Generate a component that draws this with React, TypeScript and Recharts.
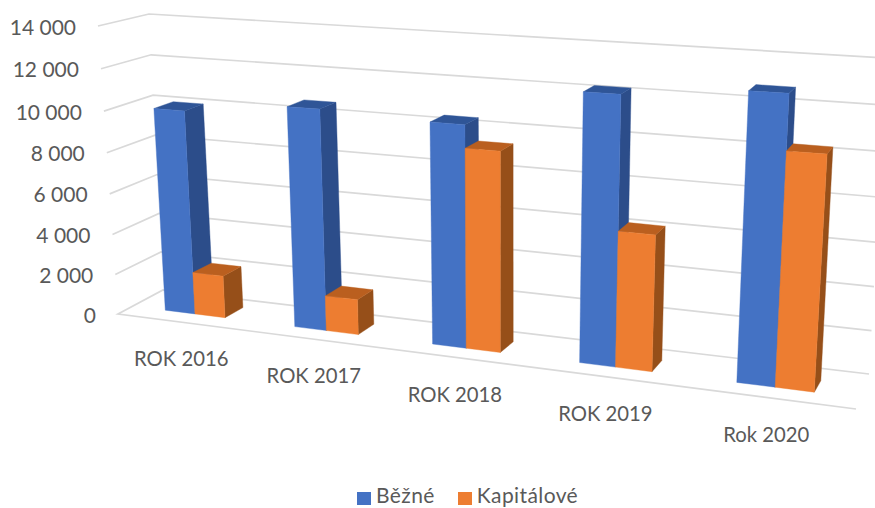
import React from 'react';
import { BarChart, Bar, XAxis, YAxis, CartesianGrid, Legend } from 'recharts';

const categories = ['ROK 2016', 'ROK 2017', 'ROK 2018', 'ROK 2019', 'Rok 2020'];
const bezne = [10000, 10570, 10360, 12170, 12670];
const kapitalove = [2090, 1705, 9300, 6195, 10280];
const yTicks = [0, 2000, 4000, 6000, 8000, 10000, 12000, 14000];
const data = categories.map((name, i) => ({ name, bezne: bezne[i], kapitalove: kapitalove[i] }));

const W = 875;
const H = 508;
const PLOT_X = 1;
const Y_MAX = 14000;
const FONT = 'Lato, "Open Sans", sans-serif';
const TEXT = '#595959';
const GRID = '#D9D9D9';

type Pt = [number, number];
// Projective map of the unit square (u across, v up) on a quadrilateral: bl, br, tr, tl
function quad(a: Pt, b: Pt, c: Pt, d: Pt) {
  const dx1 = b[0] - c[0], dx2 = d[0] - c[0], sx = a[0] - b[0] + c[0] - d[0];
  const dy1 = b[1] - c[1], dy2 = d[1] - c[1], sy = a[1] - b[1] + c[1] - d[1];
  const den = dx1 * dy2 - dx2 * dy1;
  const g = (sx * dy2 - dx2 * sy) / den;
  const h = (dx1 * sy - sx * dy1) / den;
  return (u: number, v: number): Pt => {
    const w = g * u + h * v + 1;
    return [
      ((b[0] - a[0] + g * b[0]) * u + (d[0] - a[0] + h * d[0]) * v + a[0]) / w,
      ((b[1] - a[1] + g * b[1]) * u + (d[1] - a[1] + h * d[1]) * v + a[1]) / w,
    ];
  };
}

const frontPlane = quad([132, 306], [859, 397.8], [879.4, 65.8], [114.4, 22]);
const backPlane = quad([151.5, 296], [864.5, 386.3], [883.9, 60.3], [134.4, 16.5]);
const wall = quad([163, 290], [869, 374], [887, 58], [149, 14]);
const sideWall = quad([118, 314], [163, 290], [146, 14], [98, 26]);

const poly = (pts: Pt[]) => pts.map((p) => `${p[0].toFixed(1)},${p[1].toFixed(1)}`).join(' ');
const toU = (x: number) => (x - PLOT_X) / (W - PLOT_X);

const makeBox = (front: string, top: string, side: string) => (props: any) => {
  const { x, y, width, height, background } = props;
  const plotTop = background.y;
  const plotH = background.height;
  const u0 = toU(x);
  const u1 = toU(x + width);
  const vTop = 1 - (y - plotTop) / plotH;
  const vBase = 1 - (y + height - plotTop) / plotH;
  const fbl = frontPlane(u0, vBase), fbr = frontPlane(u1, vBase);
  const ftl = frontPlane(u0, vTop), ftr = frontPlane(u1, vTop);
  const bbr = backPlane(u1, vBase);
  const btl = backPlane(u0, vTop), btr = backPlane(u1, vTop);
  return (
    <g>
      <polygon points={poly([ftr, btr, bbr, fbr])} fill={side} stroke={side} strokeWidth={0.4} />
      <polygon points={poly([ftl, btl, btr, ftr])} fill={top} stroke={top} strokeWidth={0.4} />
      <polygon points={poly([fbl, fbr, ftr, ftl])} fill={front} stroke={front} strokeWidth={0.4} />
    </g>
  );
};

const BlueBox = makeBox('#4472C4', '#2F5597', '#2C4D8A');
const OrangeBox = makeBox('#ED7D31', '#BA5F1F', '#964F19');

const GridLine = (props: any) => {
  const { y1, y, height, index } = props;
  const v = 1 - (y1 - y) / height;
  const f = sideWall(0, v);
  const bl = wall(0, v);
  const br = wall(1, v);
  const pts = Math.abs(v) < 1e-6 ? [[856, 409] as Pt, f, bl, br] : [f, bl, br];
  return <polyline key={index} points={poly(pts)} fill="none" stroke={GRID} strokeWidth={1.7} />;
};

const YTick = (props: any) => {
  const { payload } = props;
  const v = payload.value / Y_MAX;
  const f = sideWall(0, v);
  const label = String(payload.value).replace(/\B(?=(\d{3})+$)/g, ' ');
  return (
    <text x={f[0] - 22} y={f[1]} textAnchor="end" dominantBaseline="central" fontFamily={FONT} fontSize={21} fill={TEXT}>
      {label}
    </text>
  );
};

const XTick = (props: any) => {
  const { x, payload } = props;
  const u = toU(x);
  const p = frontPlane(u, 0);
  return (
    <text x={p[0] - 14 + 6 * u} y={p[1] + 44 + 3 * u} textAnchor="middle" dominantBaseline="central" fontFamily={FONT} fontSize={20.3} fill={TEXT}>
      {payload.value}
    </text>
  );
};

const LegendBox = (props: any) => (
  <div style={{ display: 'flex', justifyContent: 'flex-start', fontFamily: FONT, fontSize: 21, letterSpacing: 0.4, color: TEXT, lineHeight: '22px', paddingLeft: 357 }}>
    {props.payload.map((e: any) => (
      <span key={e.value} style={{ display: 'inline-flex', alignItems: 'center', marginRight: 23 }}>
        <span style={{ width: 14, height: 13, background: e.color, marginRight: 5, display: 'inline-block', position: 'relative', top: 3 }} />
        {e.value}
      </span>
    ))}
  </div>
);

export default function App() {
  return (
    <div style={{ position: 'absolute', left: 0, top: 0, width: W, height: H, overflow: 'hidden', background: '#fff' }}>
      <BarChart width={W} height={H} data={data} margin={{ top: 0, right: 0, bottom: 0, left: 0 }} barCategoryGap="26.75%" barGap={0}>
        <CartesianGrid vertical={false} horizontal={GridLine as any} />
        <XAxis dataKey="name" height={1} axisLine={false} tickLine={false} tick={XTick as any} interval={0} />
        <YAxis width={1} domain={[0, Y_MAX]} ticks={yTicks} axisLine={false} tickLine={false} tick={YTick as any} interval={0} />
        <Bar dataKey="bezne" name="Běžné" fill="#4472C4" shape={BlueBox as any} isAnimationActive={false} />
        <Bar dataKey="kapitalove" name="Kapitálové" fill="#ED7D31" shape={OrangeBox as any} isAnimationActive={false} />
        <Legend verticalAlign="bottom" content={LegendBox as any} wrapperStyle={{ bottom: 2, left: 0, width: W }} />
      </BarChart>
    </div>
  );
}
